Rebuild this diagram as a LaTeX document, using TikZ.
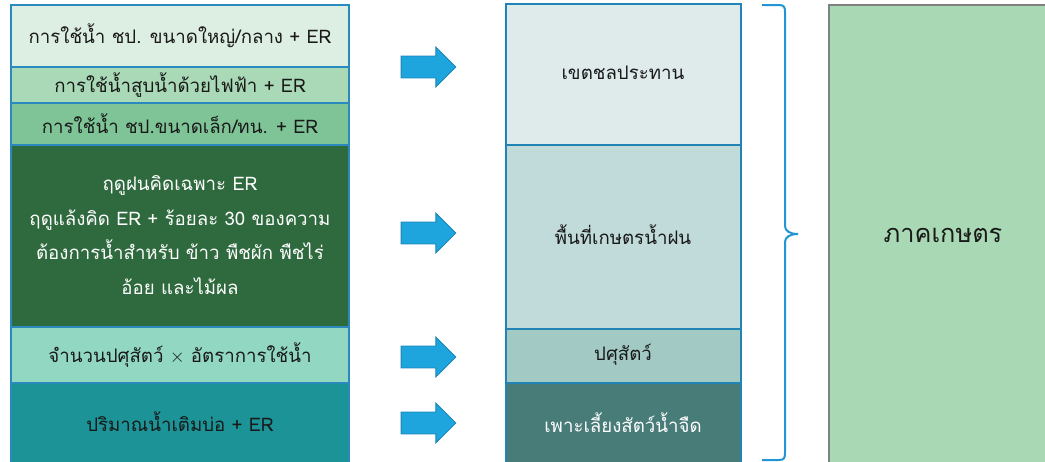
\documentclass[tikz,border=0pt]{standalone}
\usepackage{fontspec}
\newfontfamily\thaifont[Script=Thai]{Loma}
\usetikzlibrary{shapes.arrows}

\definecolor{lineblue}{HTML}{2A8ABE}
\definecolor{midline}{HTML}{2283B5}
\definecolor{arrowblue}{HTML}{1EA5DE}
\definecolor{arrowedge}{HTML}{1A86B8}
\definecolor{braceblue}{HTML}{2196D3}
\definecolor{lgA}{HTML}{DDEEE2}
\definecolor{lgB}{HTML}{A9D9B6}
\definecolor{lgC}{HTML}{7EC497}
\definecolor{lgD}{HTML}{2F6A3E}
\definecolor{lgE}{HTML}{91D7C2}
\definecolor{lgF}{HTML}{1C9396}
\definecolor{mgA}{HTML}{DFEBEB}
\definecolor{mgB}{HTML}{C0DBDA}
\definecolor{mgC}{HTML}{A2C9C4}
\definecolor{mgD}{HTML}{487C78}
\definecolor{sector}{HTML}{A9D8B5}

\tikzset{
  lbox/.style={draw=lineblue, line width=1.5pt},
  mbox/.style={draw=midline, line width=1.5pt},
  txt/.style={font=\thaifont\fontsize{14}{26}\selectfont, align=center, inner sep=0.75pt, text=black!90},
  blockarrow/.style={single arrow, draw=arrowedge, fill=arrowblue, line width=0.6pt,
    minimum height=41pt, inner xsep=0pt, inner ysep=7.9pt, single arrow head extend=6.75pt},
  brace/.style={draw=braceblue, line width=1.5pt}
}

\begin{document}
\begin{tikzpicture}[x=0.75pt,y=0.75pt,yscale=-1,xscale=1]
\clip (0,0) rectangle (1045,461);

%Shape: left column
\draw [lbox, fill=lgA] (11,5) rectangle (349,67) ;
\draw [lbox, fill=lgB] (11,67) rectangle (349,103) ;
\draw [lbox, fill=lgC] (11,103) rectangle (349,145) ;
\draw [lbox, fill=lgD] (11,145) rectangle (349,327) ;
\draw [lbox, fill=lgE] (11,327) rectangle (349,383) ;
\draw [lbox, fill=lgF] (11,383) rectangle (349,470) ;

%Shape: middle column
\draw [mbox, fill=mgA] (506,4) rectangle (741,145) ;
\draw [mbox, fill=mgB] (506,145) rectangle (741,329) ;
\draw [mbox, fill=mgC] (506,329) rectangle (741,383) ;
\draw [mbox, fill=mgD] (506,383) rectangle (741,470) ;

%Shape: sector box
\draw [draw=gray, line width=1.5pt, fill=sector] (829,5) rectangle (1060,470) ;

%Block arrows
\node [blockarrow] (arr1) at (423,67) {};
\node [blockarrow] (arr2) at (423,233) {};
\node [blockarrow] (arr3) at (423,357) {};
\node [blockarrow] (arr4) at (423,423) {};

%Curly brace
\draw [brace] (762,5) -- (779,5) .. controls (784,5) and (785,7) .. (785,12) -- (785,226) .. controls (785,231) and (790,234) .. (798,234) .. controls (790,234) and (785,237) .. (785,242) -- (785,453) .. controls (785,458) and (784,460) .. (779,460) -- (762,460) ;

% Text Node
\node [txt] (use1) at (180,36) {การใช้น้ำ ชป. ขนาดใหญ่/กลาง + ER};
% Text Node
\node [txt] (use2) at (180,85) {การใช้น้ำสูบน้ำด้วยไฟฟ้า + ER};
% Text Node
\node [txt] (use3) at (180,124) {การใช้น้ำ ชป.ขนาดเล็ก/ทน. + ER};
% Text Node
\node [txt, text=white] (rain) at (180,235) {ฤดูฝนคิดเฉพาะ ER\\ฤดูแล้งคิด ER + ร้อยละ 30 ของความ\\ต้องการน้ำสำหรับ ข้าว พืชผัก พืชไร่\\อ้อย และไม้ผล};
% Text Node
\node [txt] (stock) at (180,355) {จำนวนปศุสัตว์ $\times$ อัตราการใช้น้ำ};
% Text Node
\node [txt] (pond) at (180,422) {ปริมาณน้ำเติมบ่อ + ER};

% Text Node
\node [txt] (irr) at (623,73) {เขตชลประทาน};
% Text Node
\node [txt] (rainfed) at (623,235) {พื้นที่เกษตรน้ำฝน};
% Text Node
\node [txt] (live) at (623,355) {ปศุสัตว์};
% Text Node
\node [txt, text=white] (fish) at (623,423) {เพาะเลี้ยงสัตว์น้ำจืด};

% Text Node
\node [txt, font=\thaifont\fontsize{19}{22}\selectfont] (agri) at (943,235) {ภาคเกษตร};

\end{tikzpicture}
\end{document}
